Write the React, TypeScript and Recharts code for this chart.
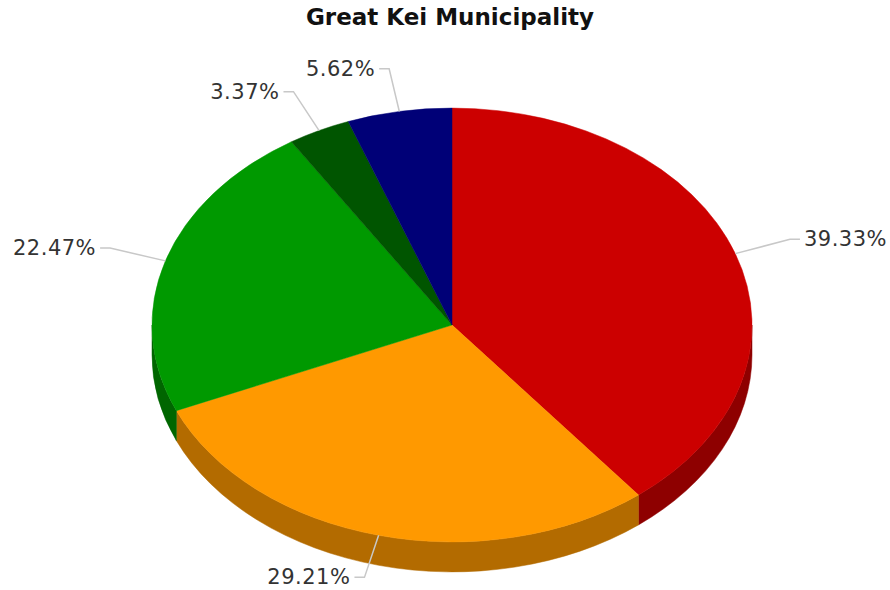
import React from 'react'
import { PieChart, Pie, Cell } from 'recharts'

const SLICES = ['Slice A', 'Slice B', 'Slice C', 'Slice D', 'Slice E']
const COUNTS = [35, 26, 20, 3, 5]

const TOP_COLORS = ['#cc0000', '#ff9900', '#009900', '#005500', '#000077']
const SIDE_COLORS = ['#8e0000', '#b36b00', '#006600', '#003800', '#00004f']

const TILT = 0.723 // vertical squash of the ellipse
const DEPTH = 30
const RAD = Math.PI / 180

const data = SLICES.map((name, i) => ({ name, value: COUNTS[i] }))

function ellipsePoint(cx: number, cy: number, rx: number, ry: number, a: number, dy = 0) {
  return [cx + rx * Math.cos(a * RAD), cy - ry * Math.sin(a * RAD) + dy]
}

function Slice3D(props: any) {
  const { cx, cy, outerRadius, startAngle, endAngle, fill, name } = props
  const idx = Math.max(0, SLICES.indexOf(name ?? props.payload?.name))
  const rx = outerRadius
  const ry = outerRadius * TILT
  const p = (a: number, dy = 0) => ellipsePoint(cx, cy, rx, ry, a, dy)

  const [sx, sy] = p(startAngle)
  const [ex, ey] = p(endAngle)
  const large = Math.abs(endAngle - startAngle) > 180 ? 1 : 0
  const sweep = startAngle > endAngle ? 1 : 0
  const top = `M${cx},${cy} L${sx},${sy} A${rx},${ry} 0 ${large} ${sweep} ${ex},${ey} Z`

  // side wall only where the rim faces the viewer (lower half)
  const lo = Math.min(startAngle, endAngle)
  const hi = Math.max(startAngle, endAngle)
  const sides: string[] = []
  for (const k of [-1, 0, 1]) {
    const a1 = Math.max(lo, -180 + 360 * k)
    const a2 = Math.min(hi, 360 * k)
    if (a2 > a1) {
      const [x2, y2] = p(a2)
      const [x1, y1] = p(a1)
      const [x1d, y1d] = p(a1, DEPTH)
      const [x2d, y2d] = p(a2, DEPTH)
      sides.push(`M${x2},${y2} A${rx},${ry} 0 0 1 ${x1},${y1} L${x1d},${y1d} A${rx},${ry} 0 0 0 ${x2d},${y2d} Z`)
    }
  }

  return (
    <g>
      {sides.map((d, i) => (
        <path key={i} d={d} fill={SIDE_COLORS[idx]} stroke={SIDE_COLORS[idx]} strokeWidth={0.5} />
      ))}
      <path d={top} fill={fill} stroke={fill} strokeWidth={0.5} />
    </g>
  )
}

function renderLabel(props: any) {
  const { cx, cy, midAngle, outerRadius, percent } = props
  const rx = outerRadius
  const ry = outerRadius * TILT
  const [x0, y0] = ellipsePoint(cx, cy, rx, ry, midAngle)
  const [x1, y1] = ellipsePoint(cx, cy, rx * 1.193, ry * 1.2, midAngle)
  const right = Math.cos(midAngle * RAD) >= 0
  const x2 = x1 + (right ? 10 : -10)
  return (
    <g>
      <polyline points={`${x0},${y0} ${x1},${y1} ${x2},${y1}`} fill="none" stroke="#c8c8c8" strokeWidth={1.5} />
      <text
        x={x2 + (right ? 4 : -4)}
        y={y1}
        textAnchor={right ? 'start' : 'end'}
        dominantBaseline="central"
        fill="#333333"
        fontSize={21}
        letterSpacing={0.5}
        fontFamily="DejaVu Sans, Verdana, sans-serif"
      >
        {(percent * 100).toFixed(2)}%
      </text>
    </g>
  )
}

export default function App() {
  return (
    <div style={{ position: 'absolute', left: 0, top: 0, width: 890, height: 590, background: '#fff' }}>
      <div
        style={{
          position: 'absolute',
          left: 0,
          top: 4,
          width: 900,
          textAlign: 'center',
          fontFamily: 'DejaVu Sans, Verdana, sans-serif',
          fontWeight: 'bold',
          fontSize: 23,
          color: '#111',
        }}
      >
        Great Kei Municipality
      </div>
      <PieChart width={890} height={590} margin={{ top: 0, right: 0, bottom: 0, left: 0 }}>
        <Pie
          data={data}
          dataKey="value"
          nameKey="name"
          cx={452}
          cy={325}
          outerRadius={300}
          startAngle={90}
          endAngle={-270}
          stroke="none"
          shape={Slice3D}
          activeShape={Slice3D}
          label={renderLabel}
          labelLine={false}
          isAnimationActive={false}
        >
          {data.map((_, i) => (
            <Cell key={i} fill={TOP_COLORS[i]} />
          ))}
        </Pie>
      </PieChart>
    </div>
  )
}
